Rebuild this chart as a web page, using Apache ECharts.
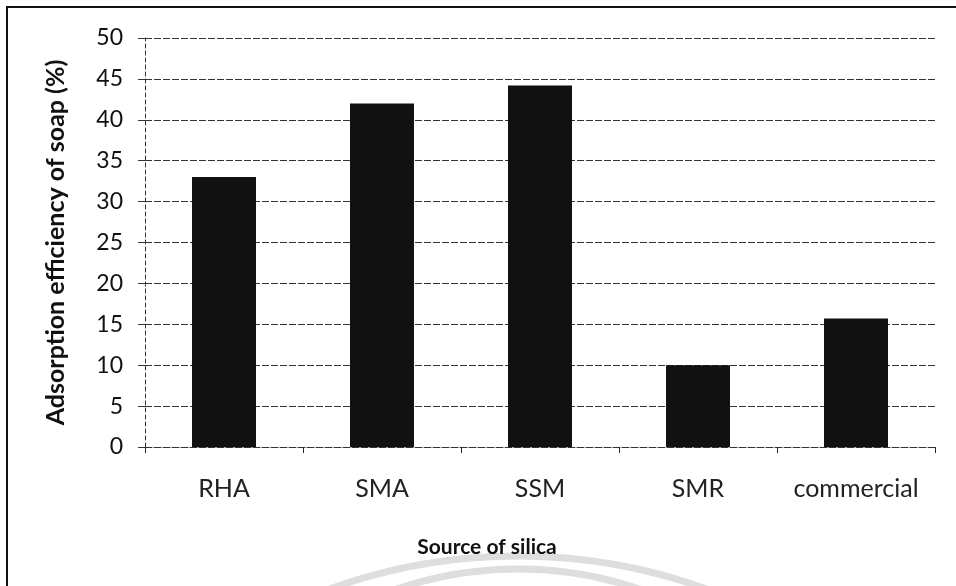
<!DOCTYPE html>
<html>
<head>
<meta charset="utf-8">
<script src="https://cdn.jsdelivr.net/npm/echarts@6/dist/echarts.min.js"></script>
<style>
  html, body { margin: 0; padding: 0; background: #ffffff; }
  #chart { width: 956px; height: 586px; }
</style>
</head>
<body>
<div id="chart"></div>
<script>
// Adsorption efficiency of soap by silica source
const categories = ['RHA', 'SMA', 'SSM', 'SMR', 'commercial'];
const efficiency = [33, 42, 44.2, 10, 15.7];
const yTicks = { min: 0, max: 50, interval: 5 };

const FONT = 'Lato, "Open Sans", sans-serif';
const gridLine = { color: '#333', width: 1, type: [7, 2] };

const chart = echarts.init(document.getElementById('chart'), null, { renderer: 'canvas' });

chart.setOption({
  animation: false,
  backgroundColor: '#ffffff',
  grid: { left: 145, right: 21, top: 38, bottom: 139, containLabel: false },
  xAxis: {
    type: 'category',
    data: categories,
    name: 'Source of silica',
    nameLocation: 'middle',
    nameGap: 90,
    nameTextStyle: {
      fontFamily: FONT, fontSize: 21, fontWeight: 'bold', color: '#111',
      padding: [0, 106, 0, 0]
    },
    axisLine: { show: true, lineStyle: gridLine },
    axisTick: { show: true, interval: 0, length: 6, lineStyle: { color: '#222', width: 1 } },
    axisLabel: {
      interval: 0, hideOverlap: false,
      fontFamily: FONT, fontSize: 25, color: '#222', margin: 29
    }
  },
  yAxis: {
    type: 'value',
    min: yTicks.min,
    max: yTicks.max,
    interval: yTicks.interval,
    name: 'Adsorption efficiency of soap (%)',
    nameLocation: 'middle',
    nameGap: 77,
    nameTextStyle: { fontFamily: FONT, fontSize: 25, fontWeight: 'bold', color: '#111' },
    axisLine: { show: true, lineStyle: { color: '#333', width: 1, type: [4, 3] } },
    axisTick: { show: true, length: 7, lineStyle: { color: '#333', width: 1 } },
    axisLabel: { fontFamily: FONT, fontSize: 23, color: '#111', margin: 22 },
    splitLine: { show: true, lineStyle: gridLine }
  },
  series: [{
    type: 'bar',
    data: efficiency,
    barWidth: 64,
    itemStyle: { color: '#111' }
  }],
  graphic: [
    // page frame (top and left edges visible)
    { type: 'rect', silent: true, z: 100,
      shape: { x: 7, y: 7, width: 980, height: 620 },
      style: { fill: null, stroke: '#111', lineWidth: 2 } },
    // faint watermark arcs along the bottom edge
    { type: 'circle', silent: true, z: -1,
      shape: { cx: 518, cy: 1111, r: 555 },
      style: { fill: null, stroke: '#dedede', lineWidth: 7 } },
    { type: 'circle', silent: true, z: -1,
      shape: { cx: 518, cy: 946, r: 377 },
      style: { fill: null, stroke: '#dedede', lineWidth: 7 } }
  ]
});
</script>
</body>
</html>
